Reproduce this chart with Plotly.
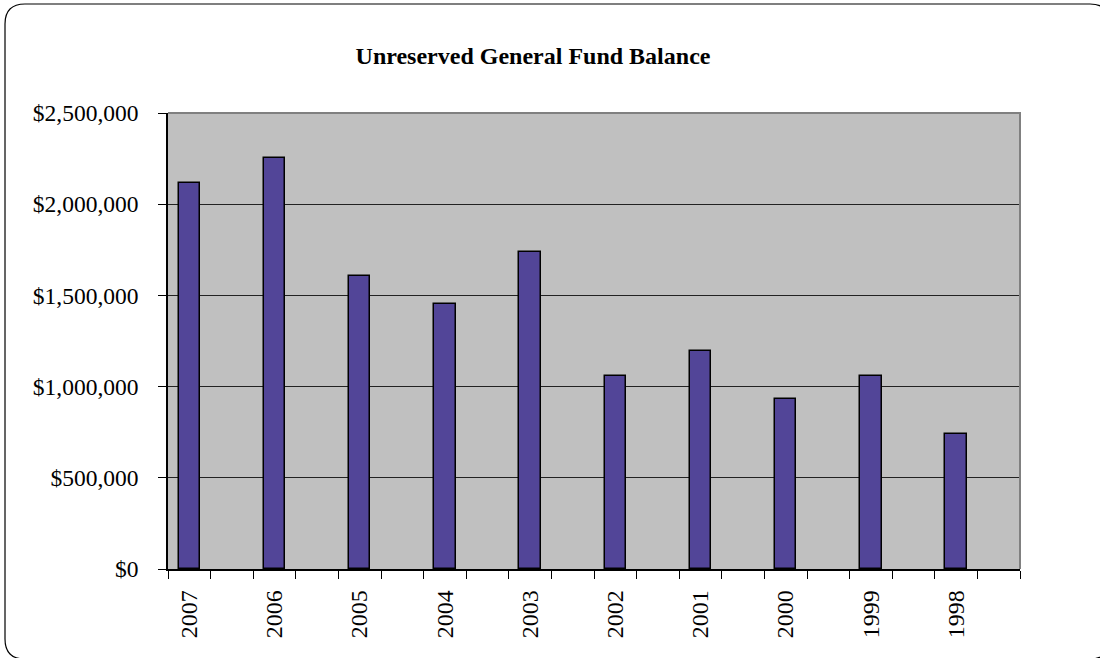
import plotly.graph_objects as go

years = ["2007", "2006", "2005", "2004", "2003", "2002", "2001", "2000", "1999", "1998"]
balances = [2115000, 2255000, 1606000, 1454000, 1737000, 1060000, 1195000, 934000, 1060000, 738000]
y_ticks = [0, 500000, 1000000, 1500000, 2000000, 2500000]

W, H = 1100, 658
# plot area in page pixels
L, R, T, B = 168, 1020, 113, 569

# each year occupies a slot followed by an empty slot
slot_pos = [2 * i for i in range(len(years))]
n_slots = 2 * len(years)

fig = go.Figure()
fig.add_trace(go.Bar(
    x=slot_pos, y=balances, width=0.5,
    marker=dict(color="#524598", line=dict(color="black", width=1.5)),
    hoverinfo="x+y", showlegend=False,
))

def px2paper(px, py):
    return (px - L) / (R - L), (B - py) / (B - T)

def rounded_path(x0, y0, x1, y1, r):
    def P(x, y):
        a, b = px2paper(x, y)
        return f"{a:.5f},{b:.5f}"
    return (f"M {P(x0 + r, y0)} L {P(x1 - r, y0)} Q {P(x1, y0)} {P(x1, y0 + r)} "
            f"L {P(x1, y1 - r)} Q {P(x1, y1)} {P(x1 - r, y1)} "
            f"L {P(x0 + r, y1)} Q {P(x0, y1)} {P(x0, y1 - r)} "
            f"L {P(x0, y0 + r)} Q {P(x0, y0)} {P(x0 + r, y0)} Z")

fig.add_shape(type="path", xref="paper", yref="paper",
              path=rounded_path(5, 4, 1110, 659, 20),
              line=dict(color="black", width=1.2), layer="above")
# gray top/right border of plot area
fig.add_shape(type="path", xref="paper", yref="paper",
              path="M 0,1 L 1,1 L 1,0",
              line=dict(color="#808080", width=2), layer="above")

SERIF = "Liberation Serif, Times New Roman, serif"
fig.update_layout(
    width=W, height=H,
    margin=dict(l=L, r=W - R, t=T, b=H - B, pad=0),
    paper_bgcolor="white", plot_bgcolor="#C0C0C0",
    font=dict(family=SERIF, color="black"),
    title=dict(text="<b>Unreserved General Fund Balance</b>",
               x=533 / W, xref="container", xanchor="center",
               y=1 - 56 / H, yref="container", yanchor="middle",
               font=dict(size=24, family=SERIF, color="black")),
    bargap=0,
)
fig.update_xaxes(
    range=[-0.5, n_slots - 0.5],
    tickmode="array", tickvals=slot_pos, ticktext=years,
    tickangle=-90, ticks="", showgrid=False, zeroline=False,
    showline=True, linecolor="black", linewidth=1.5,
    tickfont=dict(size=24), ticklabelstandoff=10,
    minor=dict(tickmode="array", tickvals=[k - 0.5 for k in range(n_slots + 1)],
               ticks="outside", ticklen=8, tickcolor="black", tickwidth=1, showgrid=False),
)
fig.update_yaxes(
    range=[0, 2500000], tickmode="array", tickvals=y_ticks,
    tickformat="$,.0f", ticks="outside", ticklen=8, tickcolor="black", tickwidth=1,
    showgrid=True, gridcolor="#222222", gridwidth=1, zeroline=False,
    showline=True, linecolor="black", linewidth=1.5,
    tickfont=dict(size=23.5), ticklabelstandoff=15,
)

fig.write_html("out.html", config={"displayModeBar": False},
               post_script="document.body.style.margin='0';")
